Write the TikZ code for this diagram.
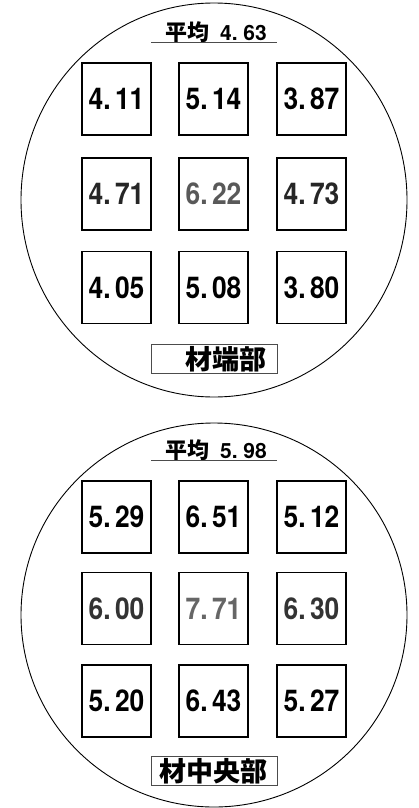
\documentclass[tikz,border=0pt]{standalone}
\usepackage{fontspec}
\setmainfont{TeX Gyre Heros}
\newfontfamily\numfont{texgyreheros-bold.otf}
\newfontfamily\cjk{Noto Sans CJK JP}
\usepackage{graphicx}
\begin{document}
\begin{tikzpicture}[x=1pt,y=-1pt,
  cell/.style={draw=black,line width=1.3pt,minimum width=69pt,minimum height=72pt,inner sep=0pt},
  num/.style={font=\numfont\fontsize{30}{30}\selectfont},
  ring/.style={draw=black,line width=0.9pt},
  avg/.style={font=\numfont\fontsize{21}{21}\selectfont,inner sep=0pt},
  lab/.style={draw=black!70,line width=1pt,minimum width=126pt,minimum height=29pt,inner sep=0pt},
  labtext/.style={font=\fontsize{27}{27}\selectfont\cjk\bfseries,inner sep=0pt}]
\useasboundingbox (0,0) rectangle (418,808);
\newcommand{\nm}[1]{\scalebox{0.88}[1]{#1}}
% top circle
\draw[ring] (214,200) ellipse [x radius=193, y radius=197];
\node[avg] (avg1) at (216,32) {{\cjk\bfseries\fontsize{22}{22}\selectfont 平均}\hspace{11pt}4.\ 63};
\coordinate (u1a) at (151,42);
\coordinate (u1b) at (277,42);
\draw[black!70,line width=0.9pt] (u1a) -- (u1b);
\node[cell,num] (a11) at (116.5,99) {\nm{4.\,11}};
\node[cell,num] (a12) at (213.5,99) {\nm{5.\,14}};
\node[cell,num] (a13) at (311.5,99) {\nm{3.\,87}};
\node[cell,num,text=black!85] (a21) at (116.5,194) {\nm{4.\,71}};
\node[cell,num,text=black!65] (a22) at (213.5,194) {\nm{6.\,22}};
\node[cell,num,text=black!85] (a23) at (311.5,194) {\nm{4.\,73}};
\node[cell,num] (a31) at (116.5,287.5) {\nm{4.\,05}};
\node[cell,num] (a32) at (213.5,287.5) {\nm{5.\,08}};
\node[cell,num] (a33) at (311.5,287.5) {\nm{3.\,80}};
\node[lab] (l1) at (214,359) {};
\node[labtext] (l1t) at (226,359) {材端部};
% bottom circle
\draw[ring] (214,615) ellipse [x radius=193, y radius=192];
\node[avg] (avg2) at (216,450) {{\cjk\bfseries\fontsize{22}{22}\selectfont 平均}\hspace{11pt}5.\ 98};
\coordinate (u2a) at (151,460);
\coordinate (u2b) at (277,460);
\draw[black!70,line width=0.9pt] (u2a) -- (u2b);
\node[cell,num] (b11) at (116.5,517) {\nm{5.\,29}};
\node[cell,num] (b12) at (213.5,517) {\nm{6.\,51}};
\node[cell,num] (b13) at (311.5,517) {\nm{5.\,12}};
\node[cell,num,text=black!80] (b21) at (116.5,608.5) {\nm{6.\,00}};
\node[cell,num,text=black!60] (b22) at (213.5,608.5) {\nm{7.\,71}};
\node[cell,num,text=black!80] (b23) at (311.5,608.5) {\nm{6.\,30}};
\node[cell,num] (b31) at (116.5,701) {\nm{5.\,20}};
\node[cell,num] (b32) at (213.5,701) {\nm{6.\,43}};
\node[cell,num] (b33) at (311.5,701) {\nm{5.\,27}};
\node[lab] (l2) at (214,771) {};
\node[labtext] (l2t) at (213,771) {材中央部};
\end{tikzpicture}
\end{document}
